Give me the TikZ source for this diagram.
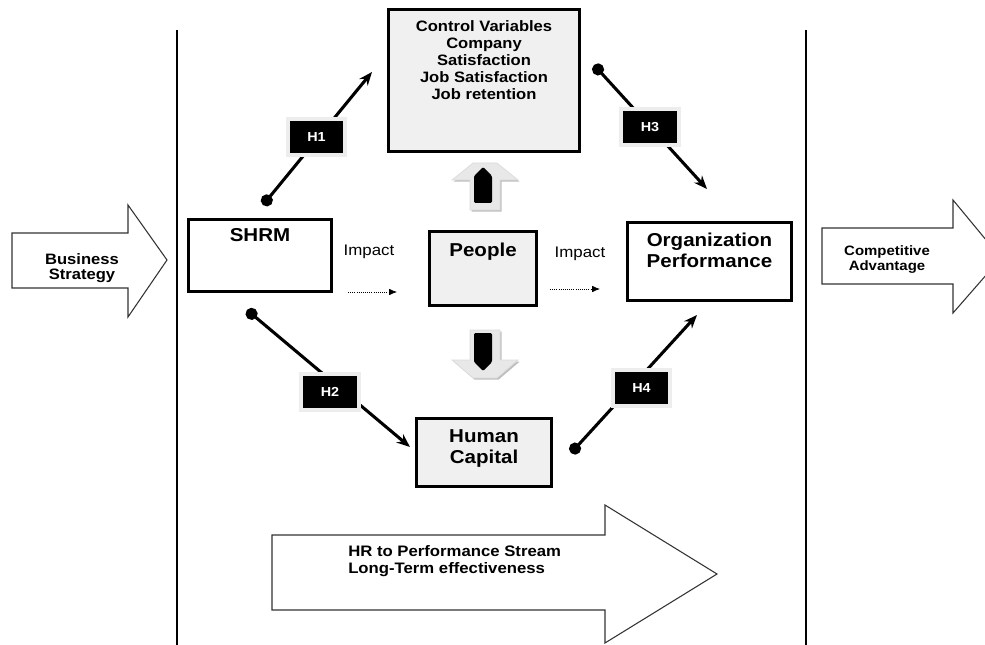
\documentclass[tikz,border=0pt]{standalone}
\usepackage{fontspec}
\setmainfont[FakeStretch=1.1]{Liberation Sans}
\usetikzlibrary{positioning,arrows.meta,shadows}
\newcommand{\boxfont}[2]{\fontsize{#1}{#2}\selectfont\bfseries}

\begin{document}
\begin{tikzpicture}[
    x=0.75pt, y=-0.75pt,
    >=Stealth,
    box/.style={draw, line width=2.3pt, fill=white, inner sep=0pt},
    greybox/.style={box, fill=black!6},
    boxtext/.style={align=center, inner sep=0pt, font=\boxfont{14}{15.75}},
    hyp/.style={arrows={Circle[length=9pt]-Stealth[length=10pt,width=8pt]}, line width=2.3pt},
    hlabel/.style={fill=black, draw=black!7, line width=3pt, text=white,
                   minimum width=43pt, minimum height=27pt, inner sep=0pt,
                   font=\boxfont{9.8}{12},
                   drop shadow={shadow xshift=1.5pt, shadow yshift=-1.5pt, fill=black!30, opacity=1}},
    impact/.style={font=\fontsize{11.5}{13}\selectfont, inner sep=0pt},
    impactarrow/.style={-{Latex[length=6pt,width=5pt]}, densely dotted, line width=0.6pt},
    bigarrow/.style={draw=black!80, line width=0.8pt, fill=white},
    arrowtext/.style={align=center, inner sep=0pt, font=\boxfont{10.5}{11.25}},
    fatarrow/.style={fill=black!9, draw=black!14, line width=0.5pt,
                     drop shadow={shadow xshift=1.2pt, shadow yshift=-1.2pt, fill=black!25, opacity=1}},
    ]

    \clip (0,0) rectangle (985,645);

    % side separators
    \draw[line width=1pt] (177,30) -- (177,645);
    \draw[line width=1pt] (806,30) -- (806,645);

    % outer block arrows
    \draw[bigarrow] (12,233) -- (128,233) -- (128,205) -- (167,260) -- (128,317) -- (128,288) -- (12,288) -- cycle;
    \node[arrowtext, font=\boxfont{11.3}{11.25}, anchor=north] (biztxt) at (82,253) {Business\\Strategy};

    \draw[bigarrow] (822,228) -- (953,228) -- (953,200) -- (1001,258) -- (953,313) -- (953,284) -- (822,284) -- cycle;
    \node[arrowtext, font=\boxfont{10.2}{11.25}, anchor=north] (comptxt) at (887,245) {Competitive\\Advantage};

    \draw[bigarrow] (272,535) -- (605,535) -- (605,505) -- (717,574) -- (605,643) -- (605,610) -- (272,610) -- cycle;
    \node[align=left, inner sep=0pt, anchor=north west, font=\boxfont{11.4}{12.75}] (hrtxt) at (348,545)
        {HR to Performance Stream\\Long-Term effectiveness};

    % boxes
    \node[greybox, minimum width=143pt, minimum height=106.5pt] (ctrl) at (484,80.5) {};
    \node[boxtext, font=\boxfont{11.3}{12.75}, below=9pt of ctrl.north] (ctrltxt)
        {Control Variables\\Company\\Satisfaction\\Job Satisfaction\\Job retention};

    \node[box, minimum width=107pt, minimum height=54pt] (shrm) at (260,255.5) {};
    \node[boxtext, below=8pt of shrm.north] (shrmtxt) {SHRM};

    \node[greybox, minimum width=80pt, minimum height=55.5pt] (people) at (483,268.5) {};
    \node[boxtext, below=9.5pt of people.north] (peopletxt) {People};

    \node[box, minimum width=123pt, minimum height=58.5pt] (orgperf) at (709.5,261.5) {};
    \node[boxtext, below=9pt of orgperf.north] (orgperftxt) {Organization\\Performance};

    \node[greybox, minimum width=101pt, minimum height=51pt] (humcap) at (484,452.5) {};
    \node[boxtext, below=9pt of humcap.north] (humcaptxt) {Human\\Capital};

    % impact arrows
    \node[impact] (imp1) at (369,252) {Impact};
    \coordinate (imp1a) at (348,292);
    \coordinate (imp1b) at (397,292);
    \draw[impactarrow] (imp1a) -- (imp1b);

    \node[impact] (imp2) at (580,253.5) {Impact};
    \coordinate (imp2a) at (550,289);
    \coordinate (imp2b) at (600,289);
    \draw[impactarrow] (imp2a) -- (imp2b);

    % up and down fat arrows
    \path[fatarrow] (470,210) -- (470,180) -- (452,180) -- (473,163) -- (497,163) -- (518,180) -- (500,180) -- (500,210) -- cycle;
    \fill[rounded corners=1pt] (474,203) -- (474,176) -- (483,167) -- (492,176) -- (492,203) -- cycle;

    \path[fatarrow] (470,330) -- (500,330) -- (500,360) -- (518,360) -- (497,378) -- (473,378) -- (452,360) -- (470,360) -- cycle;
    \fill[rounded corners=1pt] (474,333) -- (492,333) -- (492,362) -- (483,371) -- (474,362) -- cycle;

    % hypotheses
    \coordinate (h1a) at (263,205);
    \coordinate (h1b) at (372,72);
    \draw[hyp] (h1a) -- (h1b);
    \node[hlabel] (h1) at (316.5,137) {H1};

    \coordinate (h2a) at (247,310);
    \coordinate (h2b) at (410,447);
    \draw[hyp] (h2a) -- (h2b);
    \node[hlabel] (h2) at (330,392) {H2};

    \coordinate (h3a) at (594,65);
    \coordinate (h3b) at (707,189);
    \draw[hyp] (h3a) -- (h3b);
    \node[hlabel] (h3) at (650,127) {H3};

    \coordinate (h4a) at (571,453);
    \coordinate (h4b) at (697,315);
    \draw[hyp] (h4a) -- (h4b);
    \node[hlabel] (h4) at (641.5,388) {H4};

\end{tikzpicture}
\end{document}
